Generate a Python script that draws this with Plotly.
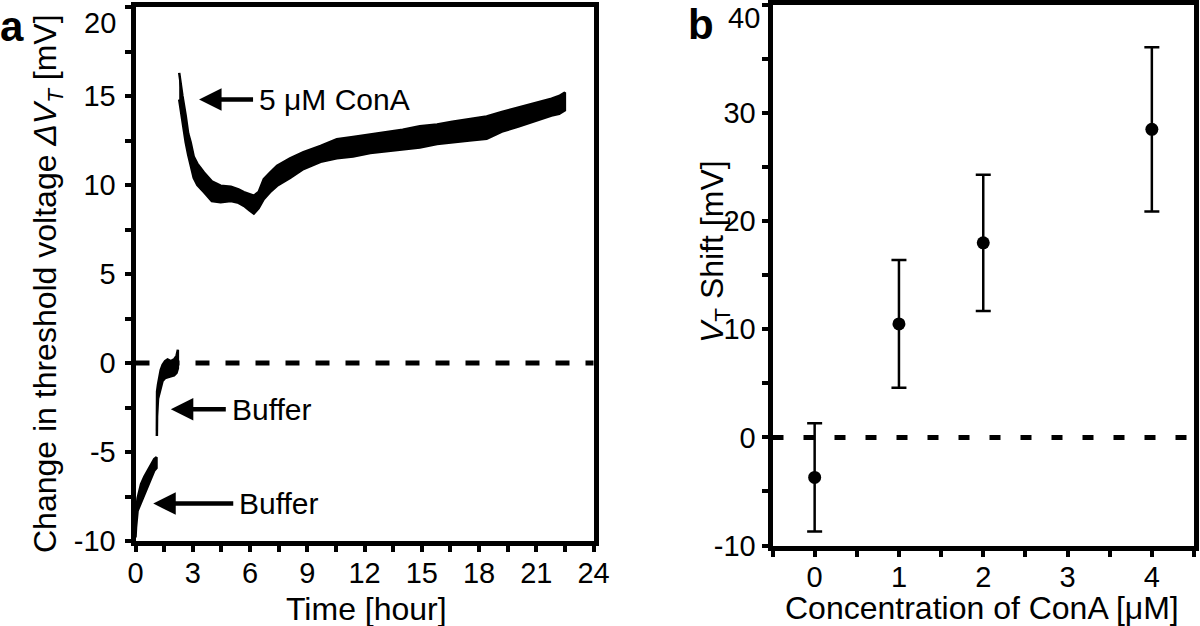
import plotly.graph_objects as go

# ---------------- data ----------------
# Panel a: threshold-voltage trace, drawn as the noisy band between lower / upper envelopes
buf1_time = [0.0, 0.03, 0.11, 0.29, 0.46, 0.64, 0.81, 0.98, 1.1]
buf1_low = [-9.8, -9.2, -8.3, -7.9, -7.4, -6.9, -6.5, -6.05, -5.9]
buf1_high = [-9.2, -8.3, -7.6, -6.8, -6.4, -6.05, -5.8, -5.4, -5.3]

buf2_time = [1.12, 1.13, 1.18, 1.24, 1.32, 1.42, 1.55, 1.68, 1.85, 2.02, 2.15, 2.22]
buf2_low = [-4.1, -3.0, -2.0, -1.8, -1.4, -1.0, -0.85, -0.8, -0.75, -0.7, -0.55, -0.3]
buf2_high = [-3.8, -1.6, -1.2, -0.8, -0.4, -0.1, 0.1, 0.2, 0.1, 0.2, 0.4, 0.75]

conA_time = [2.29, 2.36, 2.46, 2.63, 2.76, 2.89, 3.05, 3.24, 3.59, 4.0, 4.46, 5.0, 5.4, 5.68,
             5.95, 6.2, 6.45, 6.72, 7.05, 7.42, 8.1, 8.8, 9.7, 10.55, 11.4, 12.3, 13.2, 14.0,
             14.9, 15.8, 16.6, 17.5, 18.4, 19.2, 20.1, 21.0, 21.8, 22.2, 22.5]
conA_low = [14.8, 14.3, 13.5, 12.4, 11.7, 11.06, 10.4, 10.0, 9.6, 9.1, 9.03, 9.1, 9.0, 8.83,
            8.6, 8.4, 8.7, 9.2, 9.6, 9.96, 10.4, 10.9, 11.3, 11.5, 11.6, 11.8, 11.9, 12.0,
            12.1, 12.3, 12.4, 12.5, 12.6, 13.0, 13.3, 13.6, 13.9, 14.0, 14.2]
conA_high = [16.3, 15.6, 15.0, 13.9, 12.9, 12.4, 11.6, 11.2, 10.7, 10.2, 9.96, 9.9, 9.75, 9.6,
             9.5, 9.4, 9.6, 10.33, 10.7, 11.08, 11.5, 11.84, 12.2, 12.57, 12.7, 12.85, 13.0, 13.1,
             13.3, 13.4, 13.55, 13.7, 13.85, 14.1, 14.35, 14.6, 14.85, 15.0, 15.2]

# Panel b: VT shift vs ConA concentration
conc = [0, 1, 2, 4]
shift_mean = [-3.7, 10.5, 18.0, 28.5]
shift_err = [5.0, 5.9, 6.3, 7.6]

baseline = 0

# arrow annotations (data coords of the arrow tips)
arrow_labels = ["5 \u03bcM ConA", "Buffer", "Buffer"]
arrow_tip_t = [3.33, 1.85, 0.93]
arrow_tip_v = [14.8, -2.6, -7.9]

# tick labels
time_ticks = [0, 3, 6, 9, 12, 15, 18, 21, 24]
dvt_ticks = [-10, -5, 0, 5, 10, 15, 20]
dvt_labels = ["-10", "-5", "0", "5", "10", "15", "20"]
conc_ticks = [0, 1, 2, 3, 4]
shift_ticks = [-10, 0, 10, 20, 30, 40]
shift_labels = ["-10", "0", "10", "20", "30", "40"]

# ---------------- figure ----------------
FONT = "Liberation Sans, Arial, Helvetica, sans-serif"
W, H = 1200, 626
TICK_SIZE = 29
TITLE_SIZE = 32

fig = go.Figure()


def band(t, lo, hi):
    return go.Scatter(
        x=t + t[::-1], y=hi + lo[::-1], mode="lines", fill="toself",
        fillcolor="black", line=dict(color="black", width=2.5),
        xaxis="x", yaxis="y", showlegend=False, hoverinfo="skip")


fig.add_trace(band(buf1_time, buf1_low, buf1_high))
fig.add_trace(band(buf2_time, buf2_low, buf2_high))
fig.add_trace(band(conA_time, conA_low, conA_high))

fig.add_trace(go.Scatter(
    x=conc, y=shift_mean, mode="markers",
    marker=dict(color="black", size=13),
    error_y=dict(type="data", array=shift_err, visible=True, color="black",
                 thickness=2.5, width=7.5),
    xaxis="x2", yaxis="y2", showlegend=False))

# dashed zero lines
fig.add_shape(type="line", xref="x domain", yref="y", x0=0, x1=1, y0=baseline, y1=baseline,
              line=dict(color="black", width=5, dash="14px,16px"), layer="below")
fig.add_shape(type="line", xref="x2 domain", yref="y2", x0=0, x1=1, y0=baseline, y1=baseline,
              line=dict(color="black", width=5, dash="11px,20px"), layer="below")

common = dict(showline=True, linecolor="black", linewidth=5, mirror=True,
              ticks="outside", ticklen=6, tickwidth=4, tickcolor="black",
              showgrid=False, zeroline=False, automargin=False,
              tickfont=dict(family=FONT, size=TICK_SIZE, color="black"))


def minor(d):
    return dict(ticks="outside", ticklen=6, tickwidth=4, tickcolor="black",
                dtick=d, showgrid=False)


# the top tick labels are drawn as annotations (shifted down, as in the reference);
# the top tick marks themselves come from the minor ticks
fig.update_layout(
    width=W, height=H,
    margin=dict(l=0, r=0, t=0, b=0, autoexpand=False),
    paper_bgcolor="white", plot_bgcolor="white",
    font=dict(family=FONT, color="black"),
    xaxis=dict(domain=[135.5 / W, 593.5 / W], range=[0, 24], tickvals=time_ticks,
               ticklabelstandoff=-4,
               minor=minor(1.5), anchor="y", **common),
    yaxis=dict(domain=[1 - 541 / H, 1 - 7 / H], range=[-10, 20], tickvals=dvt_ticks[:-1],
               ticktext=dvt_labels[:-1], ticklabelstandoff=3,
               minor=minor(2.5), anchor="x", **common),
    xaxis2=dict(domain=[772.5 / W, 1194 / W], range=[-0.5, 4.5], tickvals=conc_ticks,
                ticklabelstandoff=-4,
                minor=minor(0.5), anchor="y2", **common),
    yaxis2=dict(domain=[1 - 545.5 / H, 1 - 5 / H], range=[-10, 40], tickvals=shift_ticks[:-1],
                ticktext=shift_labels[:-1],
                minor=minor(5), anchor="x2", **common),
)

ann = []
# arrows with their labels (arrow runs from the tip to the label box)
tail_px = [252, 225, 232]
tip_x_px = [198, 170, 152]
for lab, t, v, tl, tx in zip(arrow_labels, arrow_tip_t, arrow_tip_v, tail_px, tip_x_px):
    ann.append(dict(x=t, y=v, xref="x", yref="y", text=lab, showarrow=True,
                    arrowhead=2, arrowsize=1, arrowwidth=4.5, arrowcolor="black",
                    ax=tl - tx, ay=0, standoff=0, xanchor="left", yanchor="middle",
                    borderpad=5,
                    font=dict(family=FONT, size=30, color="black")))

# shifted top tick labels
ann.append(dict(x=118 / W, y=1 - 5 / H, xref="paper", yref="paper", text=dvt_labels[-1],
                showarrow=False, xanchor="right", yanchor="top",
                font=dict(family=FONT, size=TICK_SIZE, color="black")))
ann.append(dict(x=762 / W, y=1.0, xref="paper", yref="paper", text=shift_labels[-1],
                showarrow=False, xanchor="right", yanchor="top",
                font=dict(family=FONT, size=TICK_SIZE, color="black")))

# axis titles
ann.append(dict(x=366 / W, y=1 - 609 / H, xref="paper", yref="paper", text="Time [hour]",
                showarrow=False, xanchor="center", yanchor="middle",
                font=dict(family=FONT, size=TITLE_SIZE, color="black")))
ann.append(dict(x=982 / W, y=1 - 608 / H, xref="paper", yref="paper",
                text="Concentration of ConA [\u03bcM]",
                showarrow=False, xanchor="center", yanchor="middle",
                font=dict(family=FONT, size=TITLE_SIZE, color="black")))
ann.append(dict(x=47 / W, y=1 - 284 / H, xref="paper", yref="paper",
                text="Change in threshold voltage <i>\u0394V</i><sub><i>T</i></sub> [mV]",
                textangle=-90, showarrow=False, xanchor="center", yanchor="middle",
                font=dict(family=FONT, size=TITLE_SIZE, color="black")))
ann.append(dict(x=714 / W, y=1 - 252 / H, xref="paper", yref="paper",
                text="<i>V</i><sub>T</sub> Shift [mV]",
                textangle=-90, showarrow=False, xanchor="center", yanchor="middle",
                font=dict(family=FONT, size=TITLE_SIZE, color="black")))
# panel letters
ann.append(dict(x=12 / W, y=1 - 27 / H, xref="paper", yref="paper", text="<b>a</b>",
                showarrow=False, xanchor="center", yanchor="middle",
                font=dict(family=FONT, size=42, color="black")))
ann.append(dict(x=701 / W, y=1 - 24 / H, xref="paper", yref="paper", text="<b>b</b>",
                showarrow=False, xanchor="center", yanchor="middle",
                font=dict(family=FONT, size=42, color="black")))

fig.update_layout(annotations=ann)

# remove the browser's default 8px page margin so the figure fills the window exactly
fig.write_html("out.html",
               config={"displayModeBar": False},
               post_script="document.body.style.margin='0';document.body.style.overflow='hidden';")
